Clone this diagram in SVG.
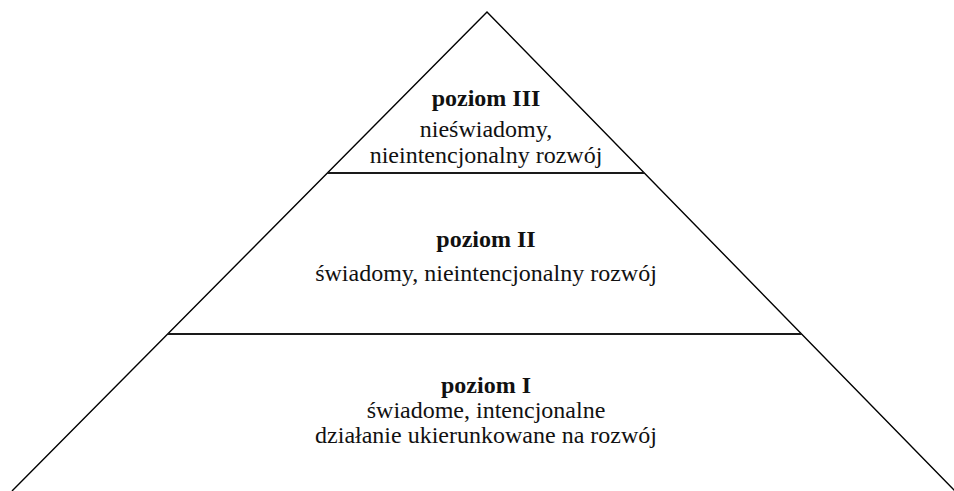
<svg xmlns="http://www.w3.org/2000/svg" width="954" height="491" viewBox="0 0 954 491">
  <style>
    .edge { fill: none; stroke: #000; stroke-width: 1.4; }
    .tier { stroke: #1a1a1a; stroke-width: 2; }
    text { font-family: "Liberation Serif", "Times New Roman", serif; font-size: 24px; fill: #111; text-anchor: middle; }
    .head { font-weight: bold; }
  </style>
  <rect width="954" height="491" fill="#fff"/>
  <g id="pyramid">
    <polyline class="edge" points="12,491 487,12 955,491"/>
  </g>
  <g id="dividers">
    <line class="tier" x1="327" y1="173" x2="644" y2="173"/>
    <line class="tier" x1="168" y1="334" x2="802" y2="334"/>
  </g>
  <g id="level-3">
    <text class="head" x="486" y="106">poziom III</text>
    <text x="486" y="137">nieświadomy,</text>
    <text x="486" y="163">nieintencjonalny rozwój</text>
  </g>
  <g id="level-2">
    <text class="head" x="486" y="247">poziom II</text>
    <text x="486" y="281">świadomy, nieintencjonalny rozwój</text>
  </g>
  <g id="level-1">
    <text class="head" x="486" y="393">poziom I</text>
    <text x="486" y="418">świadome, intencjonalne</text>
    <text x="486" y="443">działanie ukierunkowane na rozwój</text>
  </g>
</svg>
